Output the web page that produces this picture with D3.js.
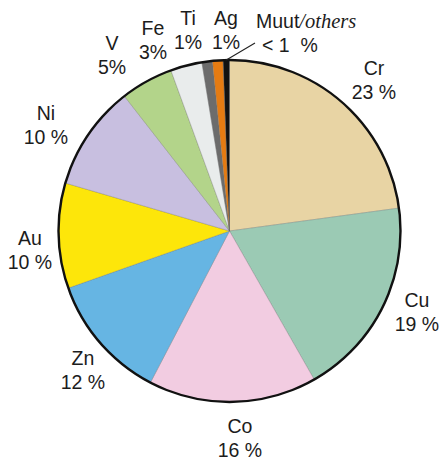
<!DOCTYPE html>
<html>
<head>
<meta charset="utf-8">
<script src="https://cdn.jsdelivr.net/npm/d3@7"></script>
<style>
  html, body { margin: 0; padding: 0; background: #fff; }
  svg { display: block; }
  text { font-family: "Liberation Sans", Arial, Helvetica, sans-serif; fill: #1c1c1c; }
</style>
</head>
<body>
<svg id="chart" width="444" height="461"></svg>
<script>
// Metal shares (%), clockwise from 12 o'clock
const metals = ["Cr", "Cu", "Co", "Zn", "Au", "Ni", "V", "Fe", "Ti", "Ag", "Muut"];
const shares = [23, 19, 16, 12, 10, 10, 5, 3, 1, 1, 0.6];
const shareLabels = ["23 %", "19 %", "16 %", "12 %", "10 %", "10 %", "5%", "3%", "1%", "1%", "< 1  %"];
const colors = ["#e8d4a4", "#9bcab4", "#f2cce1", "#66b5e3", "#fde60a", "#c8bfe0",
                "#b3d48a", "#e9ecec", "#6c6c6c", "#e57b12", "#111111"];

// Label anchors (centre x, baseline of first line) in page pixels
const labelXY = [[374, 75], [417, 307], [240, 433], [83, 365], [30, 245],
                 [46, 120], [112, 50], [153, 35], [188, 25], [226, 25]];

const cx = 229.5, cy = 231, R = 171;
const svg = d3.select("#chart");
const g = svg.append("g").attr("transform", `translate(${cx},${cy})`);

const data = metals.map((m, i) => ({ name: m, value: shares[i], label: shareLabels[i], color: colors[i] }));
const pie = d3.pie().sort(null).value(d => d.value).startAngle(0).endAngle(2 * Math.PI);
const arc = d3.arc().innerRadius(0).outerRadius(R);
const arcs = pie(data);

g.selectAll("path.slice")
  .data(arcs)
  .join("path")
  .attr("class", "slice")
  .attr("d", arc)
  .attr("fill", d => d.data.color)
  .attr("stroke", "#6a6a6a")
  .attr("stroke-opacity", 0.5)
  .attr("stroke-width", 0.6);

// outer rim
g.append("circle")
  .attr("r", R)
  .attr("fill", "none")
  .attr("stroke", "#111")
  .attr("stroke-width", 2.4);

// slice labels: name above, share below
const fs = 19.5, lineGap = 23.5;
const labels = svg.append("g");
arcs.slice(0, 10).forEach((a, i) => {
  const [x, y] = labelXY[i];
  const t = labels.append("text")
    .attr("text-anchor", "middle")
    .attr("font-size", fs);
  t.append("tspan").attr("x", x).attr("y", y).text(a.data.name);
  t.append("tspan").attr("x", x).attr("y", y + lineGap).text(a.data.label);
});

// "others" label with leader line to the thin black slice
const others = arcs[10];
const om = (others.startAngle + others.endAngle) / 2;
const rimX = cx + Math.sin(om) * R, rimY = cy - Math.cos(om) * R;
labels.append("line")
  .attr("x1", rimX).attr("y1", rimY)
  .attr("x2", 255).attr("y2", 43)
  .attr("stroke", "#222").attr("stroke-width", 1.1);

const ot = labels.append("text").attr("font-size", fs);
ot.append("tspan").attr("x", 256).attr("y", 28).text("Muut");
ot.append("tspan")
  .attr("font-style", "italic")
  .style("font-family", "'Liberation Serif', 'Times New Roman', serif")
  .attr("font-size", 20.5)
  .text("/others");
labels.append("text")
  .attr("font-size", fs)
  .style("white-space", "pre")
  .attr("x", 262).attr("y", 52)
  .text(shareLabels[10]);
</script>
</body>
</html>
